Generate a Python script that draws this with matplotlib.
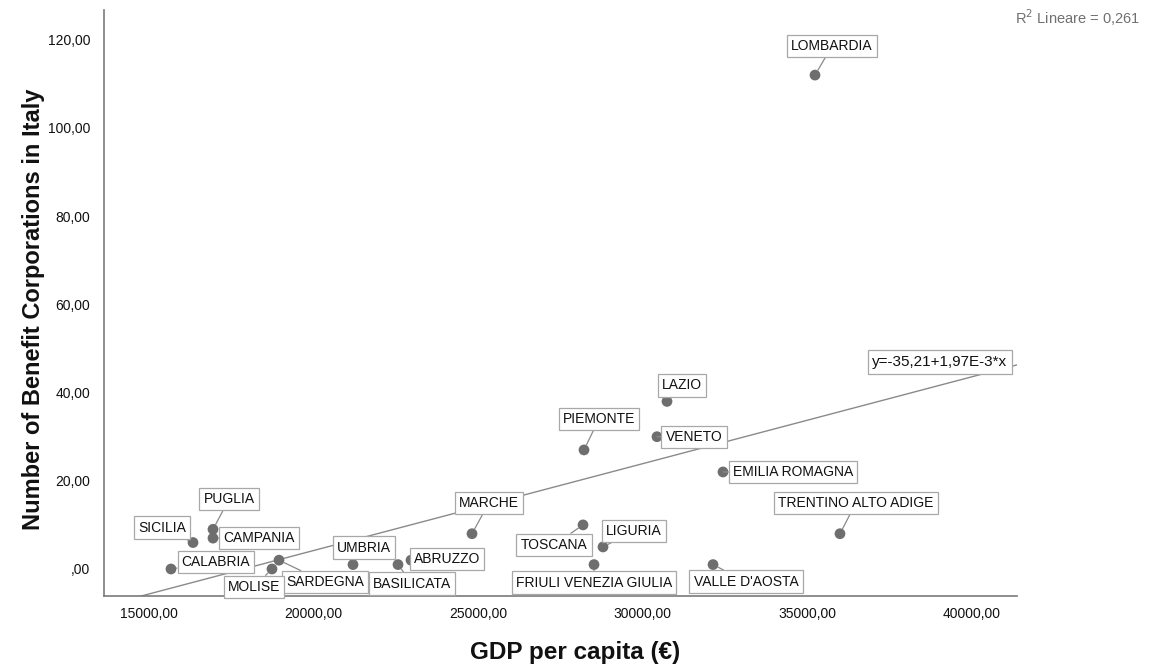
import matplotlib
matplotlib.use("Agg")
import matplotlib.pyplot as plt
from matplotlib.ticker import FuncFormatter, FixedLocator
import numpy as np

plt.rcParams['font.family'] = ['Liberation Sans', 'DejaVu Sans']

regions = ["LOMBARDIA", "LAZIO", "VENETO", "PIEMONTE", "EMILIA ROMAGNA",
           "TRENTINO ALTO ADIGE", "VALLE D'AOSTA", "MARCHE", "TOSCANA", "LIGURIA",
           "FRIULI VENEZIA GIULIA", "ABRUZZO", "BASILICATA", "UMBRIA", "SARDEGNA",
           "MOLISE", "CALABRIA", "SICILIA", "PUGLIA", "CAMPANIA"]
gdp = [35231, 30735, 30431, 28214, 32436,
       35990, 32133, 24812, 28184, 28791,
       28518, 22959, 22564, 21197, 18949,
       18736, 15668, 16337, 16944, 16944]
benefit_corps = [112, 38, 30, 27, 22,
                 8, 1, 8, 10, 5,
                 1, 2, 1, 1, 2,
                 0, 0, 6, 9, 7]
intercept = -35.21
slope = 1.97e-3
r2 = 0.261
x_ticks = [15000, 20000, 25000, 30000, 35000, 40000]
y_ticks = [0, 20, 40, 60, 80, 100, 120]

# label offsets in pixels (layout)
label_offsets = {
    "LOMBARDIA": (17, 29), "LAZIO": (15, 16), "PIEMONTE": (15, 31), "VENETO": (37, 0),
    "EMILIA ROMAGNA": (70, 0), "TRENTINO ALTO ADIGE": (16, 31), "VALLE D'AOSTA": (33, -17),
    "FRIULI VENEZIA GIULIA": (0, -18), "TOSCANA": (-29, -20), "LIGURIA": (31, 16),
    "MARCHE": (17, 31), "ABRUZZO": (36, 1), "BASILICATA": (14, -19), "SARDEGNA": (46, -22),
    "MOLISE": (-18, -18), "UMBRIA": (11, 17), "CALABRIA": (45, 7), "CAMPANIA": (46, 0),
    "SICILIA": (-31, 15), "PUGLIA": (16, 30),
}

fig = plt.figure(figsize=(11.52, 6.69), dpi=100)
ax = fig.add_axes([104/1152, 73/669, 913/1152, 586/669])

x0 = 15000 - 45/0.03292
x1 = 15000 + 868/0.03292
y0 = -27/4.41
y1 = 559/4.41
ax.set_xlim(x0, x1)
ax.set_ylim(y0, y1)

xs = np.array([x0, x1])
ax.plot(xs, intercept + slope*xs, color='#8a8a8a', lw=1.0, zorder=2)

ax.scatter(gdp, benefit_corps, s=60, color='#6e6e6e', zorder=4, edgecolors='none')

box = dict(boxstyle='square,pad=0.3', fc='white', ec='#a8a8a8', lw=0.9)
for name, gx, by in zip(regions, gdp, benefit_corps):
    dx, dy = label_offsets[name]
    ax.annotate(name, xy=(gx, by), xytext=(dx, dy), textcoords='offset pixels',
                ha='center', va='center', fontsize=10, color='#111111', zorder=5,
                bbox=box,
                arrowprops=dict(arrowstyle='-', color='#8a8a8a', lw=0.9,
                                shrinkA=0, shrinkB=4))

eq = "y=-35,21+1,97E-3*x"
ax.text((940-104)/913, (596-362)/586, eq, transform=ax.transAxes,
        ha='center', va='center', fontsize=11, color='#111111', zorder=5,
        bbox=box)

def fmt(v, pos=None):
    s = f"{v:.2f}".replace('.', ',')
    if s.startswith('0,'):
        s = s[1:]
    return s

ax.xaxis.set_major_locator(FixedLocator(x_ticks))
ax.yaxis.set_major_locator(FixedLocator(y_ticks))
ax.xaxis.set_major_formatter(FuncFormatter(fmt))
ax.yaxis.set_major_formatter(FuncFormatter(fmt))
ax.tick_params(axis='both', length=0, labelsize=10, colors='#111111')
ax.tick_params(axis='x', pad=8)
ax.tick_params(axis='y', pad=10)

for s in ['top', 'right']:
    ax.spines[s].set_visible(False)
for s in ['left', 'bottom']:
    ax.spines[s].set_color('#7a7a7a')
    ax.spines[s].set_linewidth(1.2)

ax.set_xlabel("GDP per capita (€)", fontsize=17.5, fontweight='bold', color='#111111')
ax.set_ylabel("Number of Benefit Corporations in Italy", fontsize=17, fontweight='bold', color='#111111')
ax.xaxis.set_label_coords((575-104)/913, (596-652)/586)
ax.yaxis.set_label_coords((34-104)/913, (596-309)/586)
ax.xaxis.label.set_va('center')
ax.yaxis.label.set_va('center')

fig.text(1140/1152, 1-18/669, "R$^2$ Lineare = " + f"{r2:.3f}".replace('.', ','),
         ha='right', va='center', fontsize=10.5, color='#707070')

fig.savefig("out.png", dpi=100, facecolor='white')
